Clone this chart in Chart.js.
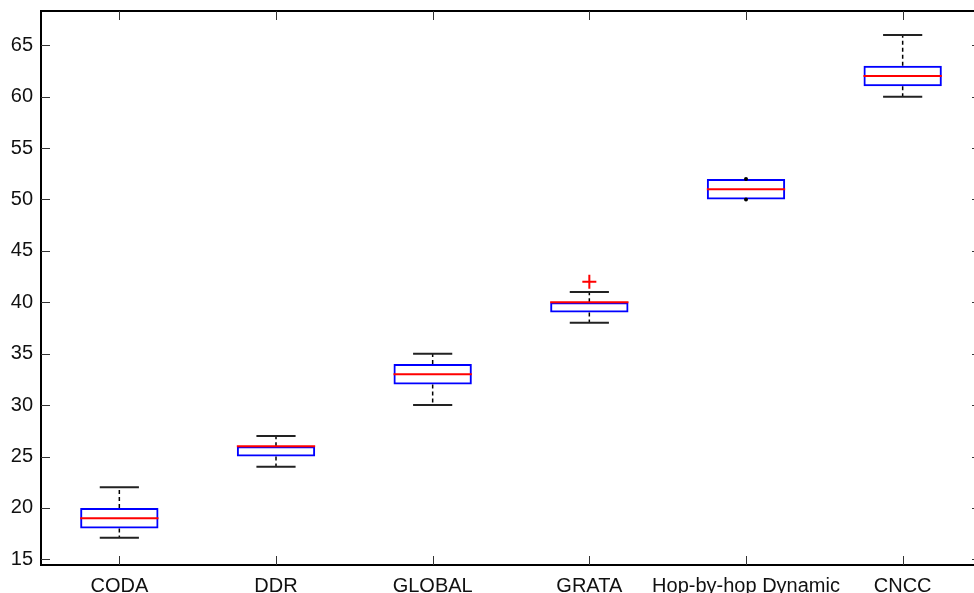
<!DOCTYPE html>
<html lang="en">
<head>
  <meta charset="UTF-8">
  <title>Box plot</title>
  <script src="https://cdn.jsdelivr.net/npm/chart.js"></script>
  <style>
    html, body {
      margin: 0;
      padding: 0;
      background: #fff;
      overflow: hidden;
    }
    #chart {
      display: block;
    }
  </style>
</head>
<body>
  <canvas id="chart" width="990" height="593" style="width:990px;height:593px"></canvas>

  <script>
    const categories = ['CODA', 'DDR', 'GLOBAL', 'GRATA', 'Hop-by-hop Dynamic', 'CNCC'];
    const whiskerLow = [17.1, 24, 30, 38, 50, 60];
    const q1 = [18, 25, 32, 39, 50, 61];
    const median = [19, 26, 33, 40, 51, 62];
    const q3 = [20, 26, 34, 40, 52, 63];
    const whiskerHigh = [22, 27, 35, 41, 52, 66];
    const outliers = [null, null, null, 42, null, null];
    const yTicks = [15, 20, 25, 30, 35, 40, 45, 50, 55, 60, 65];

    // whiskers, caps and medians on top of the boxes
    const boxExtras = {
      id: 'boxExtras',
      afterDatasetsDraw(chart) {
        const ctx = chart.ctx;
        const x = chart.scales.x;
        const y = chart.scales.y;
        const bars = chart.getDatasetMeta(0).data;
        const step = x.getPixelForValue(1) - x.getPixelForValue(0);
        const capHalf = step * 0.125;
        ctx.save();
        categories.forEach((c, i) => {
          const xc = x.getPixelForValue(i);
          const half = bars[i].width / 2;

          ctx.strokeStyle = '#000';
          ctx.lineWidth = 1.5;
          ctx.setLineDash([4, 3]);
          ctx.beginPath();
          ctx.moveTo(xc, y.getPixelForValue(q3[i]));
          ctx.lineTo(xc, y.getPixelForValue(whiskerHigh[i]));
          ctx.moveTo(xc, y.getPixelForValue(q1[i]));
          ctx.lineTo(xc, y.getPixelForValue(whiskerLow[i]));
          ctx.stroke();
          ctx.setLineDash([]);

          if (whiskerHigh[i] > q3[i] || whiskerLow[i] < q1[i]) {
            ctx.strokeStyle = '#222';
            ctx.lineWidth = 2;
            ctx.beginPath();
            ctx.moveTo(xc - capHalf, y.getPixelForValue(whiskerHigh[i]));
            ctx.lineTo(xc + capHalf, y.getPixelForValue(whiskerHigh[i]));
            ctx.moveTo(xc - capHalf, y.getPixelForValue(whiskerLow[i]));
            ctx.lineTo(xc + capHalf, y.getPixelForValue(whiskerLow[i]));
            ctx.stroke();
          } else {
            ctx.fillStyle = '#000';
            [whiskerHigh[i], whiskerLow[i]].forEach(v => {
              ctx.beginPath();
              ctx.arc(xc, y.getPixelForValue(v), 2, 0, Math.PI * 2);
              ctx.fill();
            });
          }

          ctx.strokeStyle = '#ff0000';
          ctx.lineWidth = 2;
          ctx.beginPath();
          ctx.moveTo(xc - half, y.getPixelForValue(median[i]));
          ctx.lineTo(xc + half, y.getPixelForValue(median[i]));
          ctx.stroke();
        });
        ctx.restore();
      }
    };

    // closed frame with inward tick marks on all four sides
    const frame = {
      id: 'frame',
      afterDraw(chart) {
        const ctx = chart.ctx;
        const a = chart.chartArea;
        const x = chart.scales.x;
        const y = chart.scales.y;
        const len = 9;
        ctx.save();
        ctx.strokeStyle = '#000';
        ctx.lineWidth = 2;
        ctx.strokeRect(a.left, a.top, a.right - a.left, a.bottom - a.top);
        ctx.strokeStyle = '#333';
        ctx.lineWidth = 1;
        ctx.beginPath();
        categories.forEach((c, i) => {
          const px = Math.round(x.getPixelForValue(i)) + 0.5;
          ctx.moveTo(px, a.bottom);
          ctx.lineTo(px, a.bottom - len);
          ctx.moveTo(px, a.top);
          ctx.lineTo(px, a.top + len);
        });
        yTicks.forEach(v => {
          const py = Math.round(y.getPixelForValue(v)) + 0.5;
          ctx.moveTo(a.left, py);
          ctx.lineTo(a.left + len, py);
          ctx.moveTo(a.right, py);
          ctx.lineTo(a.right - len, py);
        });
        ctx.stroke();
        ctx.restore();
      }
    };

    new Chart(document.getElementById('chart'), {
      data: {
        labels: categories,
        datasets: [{
          type: 'bar',
          data: categories.map((c, i) => [q1[i], q3[i]]),
          backgroundColor: 'rgba(0,0,0,0)',
          borderColor: '#0000ff',
          borderWidth: 2,
          borderSkipped: false,
          barPercentage: 0.5,
          categoryPercentage: 1
        }, {
          type: 'line',
          data: outliers,
          showLine: false,
          pointStyle: 'cross',
          pointRadius: 7,
          pointBorderWidth: 2,
          borderColor: '#ff0000',
          backgroundColor: '#ff0000'
        }]
      },
      options: {
        responsive: false,
        animation: false,
        layout: { padding: { top: 11, right: 4, left: 0, bottom: 0 } },
        plugins: {
          legend: { display: false },
          tooltip: { enabled: false }
        },
        scales: {
          x: {
            type: 'category',
            offset: true,
            grid: { display: false, drawTicks: false },
            border: { display: false },
            ticks: {
              color: '#111',
              padding: 9,
              maxRotation: 0,
              autoSkip: false,
              font: { family: 'Liberation Sans, Arial, sans-serif', size: 20 }
            },
            afterFit(scale) {
              scale.height = 28;
              scale.paddingLeft = 0;
              scale.paddingRight = 0;
            }
          },
          y: {
            type: 'linear',
            min: 14.45,
            max: 68.33,
            grid: { display: false, drawTicks: false },
            border: { display: false },
            afterBuildTicks(scale) {
              scale.ticks = yTicks.map(v => ({ value: v }));
            },
            ticks: {
              color: '#111',
              padding: 8,
              font: { family: 'Liberation Sans, Arial, sans-serif', size: 20 }
            },
            afterFit(scale) {
              scale.width = 41;
              scale.paddingTop = 0;
              scale.paddingBottom = 0;
            }
          }
        }
      },
      plugins: [boxExtras, frame]
    });
  </script>
</body>
</html>
